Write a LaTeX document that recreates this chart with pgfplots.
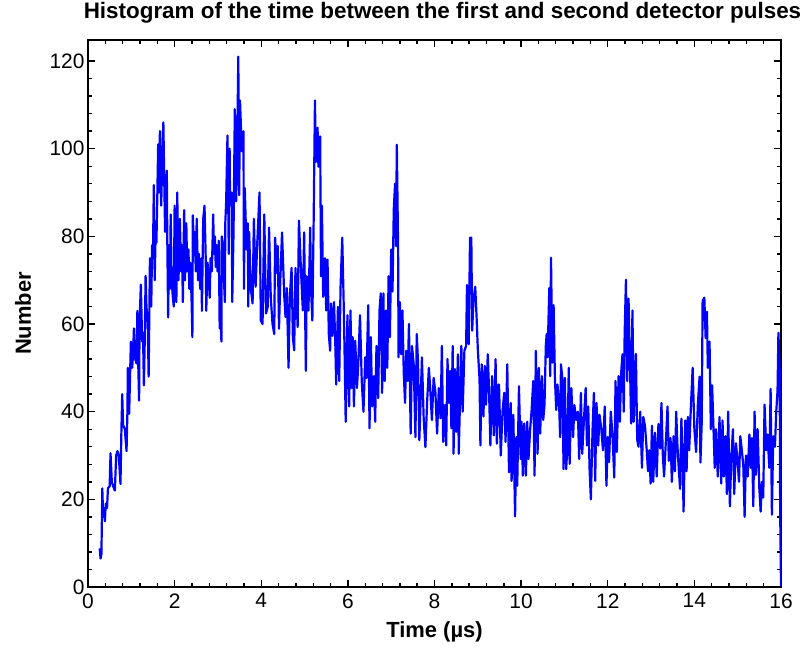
\documentclass[border=0pt]{standalone}
\usepackage{pgfplots}
\pgfplotsset{compat=1.18}
\usepackage{fontspec}
\setmainfont{Liberation Sans}
\begin{document}
\begin{tikzpicture}
\useasboundingbox (-88bp,-61bp) rectangle (720bp,587bp);
\begin{axis}[
  at={(0,0)}, anchor=south west,
  scale only axis, width=693bp, height=547bp,
  xmin=0, xmax=16, ymin=0, ymax=124.8,
  xtick={0,2,...,16}, ytick={0,20,...,120},
  minor x tick num=4, minor y tick num=4,
  xtick pos=both, ytick pos=both,
  xticklabel pos=lower, yticklabel pos=left,
  tick align=inside, major tick length=7bp, minor tick length=4bp,
  every tick/.style={black, line width=1.4bp},
  axis line style={line width=2bp},
  /pgf/number format/assume math mode=true,
  tick label style={font=\fontsize{21}{21}\selectfont},
  xticklabel style={yshift=-3bp},
  xlabel={Time (µs)},
  ylabel={Number},
  label style={font=\bfseries\fontsize{22}{22}\selectfont},
  xlabel style={at={(axis description cs:0.5,0)}, anchor=base, yshift=-50bp},
  ylabel style={at={(axis description cs:-0.0823,0.5)}, anchor=base},
  title={Histogram of the time between the first and second detector pulses},
  title style={font=\bfseries\fontsize{22.5}{22.5}\selectfont, at={(axis description cs:0.5,1)}, anchor=base, yshift=16bp, xshift=8bp},
]
\addplot[color={rgb,255:red,0;green,0;blue,255}, line width=2.2bp, line join=round] table {
x y
0.27 8.8
0.29 6.5
0.31 7.5
0.33 22.5
0.35 16
0.37 18
0.39 15
0.41 19
0.44 18
0.46 22.5
0.50 23
0.52 30.5
0.55 24
0.58 23
0.62 22
0.65 30
0.68 31
0.71 30
0.75 23.5
0.77 35
0.79 44
0.81 37
0.85 36
0.89 31
0.91 40
0.92 50
0.95 39.5
0.99 56
1.02 50
1.04 53
1.06 59
1.09 52
1.12 51
1.14 63
1.15 55
1.18 42.5
1.19 60
1.22 69
1.25 56
1.27 58
1.29 46
1.31 56
1.33 71
1.35 64
1.38 60
1.40 48
1.43 75
1.45 65
1.46 64
1.48 78
1.50 76
1.52 91.7
1.54 70
1.56 80
1.58 78.6
1.60 89
1.62 101
1.64 90
1.66 104
1.68 92
1.69 87
1.72 100
1.74 106
1.76 93
1.78 81
1.79 85
1.82 95
1.83 80
1.85 61.5
1.87 78
1.89 68
1.91 85
1.93 70
1.96 66
1.98 64
2.00 87
2.02 70
2.04 65
2.06 90
2.09 70
2.11 80
2.12 84
2.15 72
2.17 78
2.19 65
2.22 86
2.24 70
2.26 80
2.27 83
2.29 72
2.32 77
2.34 68
2.36 74
2.39 66
2.41 57
2.42 84.8
2.45 76
2.46 81
2.49 72
2.51 84
2.54 70
2.56 76
2.59 68
2.62 75
2.63 63
2.66 84
2.69 87
2.72 74
2.73 63
2.76 74
2.79 70
2.81 66
2.83 75
2.86 72
2.89 85
2.91 76
2.93 80
2.95 73
2.97 78
2.99 72
3.02 79
3.04 59
3.06 62
3.08 56
3.09 80
3.12 78
3.14 70
3.16 65
3.17 83
3.19 88
3.22 103
3.23 95
3.25 76
3.27 100
3.28 88
3.32 90
3.33 65
3.36 81
3.39 109
3.42 88
3.44 96
3.47 121
3.49 89.4
3.51 111
3.55 99.4
3.59 104
3.60 68
3.62 91
3.66 77
3.69 83
3.70 64
3.72 81
3.76 68
3.80 64.7
3.83 84
3.87 68.5
3.91 79
3.96 90
3.99 60.8
4.03 60
4.07 85
4.11 62.4
4.15 64
4.18 82
4.22 66
4.26 60
4.30 57.7
4.32 79.7
4.36 71.6
4.38 77.8
4.41 58.9
4.44 70
4.48 80.9
4.53 66.6
4.56 61.6
4.59 68.2
4.63 50
4.66 66.2
4.70 72.8
4.73 57
4.76 54
4.79 72.8
4.84 59.3
4.87 83.6
4.92 71.6
4.96 63.1
4.99 80.9
5.03 49.3
5.05 70.9
5.09 63.1
5.13 82
5.15 67.8
5.18 60.8
5.21 83.6
5.24 111
5.26 97
5.30 104.8
5.32 95.9
5.36 102.8
5.38 70.9
5.40 87
5.43 66.2
5.47 75
5.50 63.1
5.53 74.7
5.56 57.7
5.59 53.9
5.61 64.7
5.64 57.3
5.68 65
5.71 55.4
5.73 46.2
5.77 63.9
5.80 47
5.83 68.2
5.87 79.7
5.91 61.6
5.95 37.7
5.99 62
6.03 41.2
6.06 63.1
6.09 45.4
6.11 57
6.14 41.2
6.17 56.2
6.21 45.4
6.24 50.8
6.28 62
6.32 47
6.36 40
6.40 52.4
6.43 47.7
6.47 64.3
6.50 36.2
6.53 57
6.56 41.2
6.60 48.1
6.63 37.7
6.66 55
6.70 43.1
6.73 63.1
6.76 67
6.79 44.3
6.82 67
6.85 47
6.88 63.1
6.91 50
6.94 70.9
6.97 57
7.00 77
7.03 67.4
7.06 86.3
7.09 92
7.11 77.8
7.13 100.9
7.16 77
7.17 52.4
7.20 65
7.23 53.1
7.26 63.1
7.29 48.9
7.32 42
7.35 53.9
7.38 47
7.41 60
7.45 35
7.48 55
7.52 50.8
7.56 34.2
7.59 57.7
7.62 51.2
7.65 33.5
7.68 42.7
7.71 52.4
7.75 38.5
7.79 31.9
7.83 42.3
7.87 50
7.90 45.4
7.94 38.1
7.98 47.7
8.02 44.6
8.06 35
8.10 45.4
8.14 38.5
8.17 55
8.20 33.1
8.24 41.5
8.27 32.3
8.30 52
8.33 42
8.36 49.3
8.39 36.2
8.42 55
8.44 30.4
8.47 49.7
8.50 35.4
8.54 53.1
8.56 30.4
8.59 43.1
8.62 55
8.65 40
8.69 53.9
8.73 55
8.75 68.9
8.79 55.4
8.82 79.7
8.85 79.7
8.87 58.5
8.90 65.5
8.94 68.5
8.97 62
9.00 54.3
9.04 47.3
9.06 32.3
9.09 50.8
9.13 38.9
9.16 50.4
9.19 41.6
9.23 53.1
9.26 44.6
9.29 32.3
9.33 48.1
9.37 34.6
9.41 52
9.44 32.7
9.48 46.2
9.49 46.2
9.53 30
9.57 40
9.61 44.3
9.64 33.1
9.68 50.8
9.72 26.2
9.76 42
9.78 24.2
9.82 39.3
9.86 16.1
9.89 34.2
9.91 23.1
9.95 45.8
9.99 29.2
10.01 37.7
10.04 25.4
10.07 37.3
10.11 25.4
10.14 37.7
10.17 29.2
10.21 36.2
10.24 40
10.28 47
10.31 25.4
10.34 53.9
10.38 30.4
10.41 50
10.44 35
10.48 48.1
10.51 38.1
10.54 41.6
10.57 55
10.59 57.7
10.61 52.4
10.65 68.2
10.67 48.1
10.69 75.1
10.72 51.2
10.75 64.3
10.78 47.7
10.81 40.4
10.84 46.2
10.88 40.8
10.90 34.2
10.92 50.8
10.95 47.7
10.98 26.9
11.01 47.7
11.04 26.9
11.07 32.3
11.10 50
11.12 28.1
11.16 45.4
11.20 34.2
11.23 41.5
11.27 38.1
11.31 40
11.34 29.2
11.38 44.3
11.41 30.4
11.45 38.1
11.49 45.4
11.52 32.3
11.55 41.2
11.58 26.9
11.61 20
11.65 36.2
11.68 44.3
11.71 24.2
11.74 42
11.78 32.3
11.81 39.3
11.85 36.2
11.89 31.2
11.93 41.2
11.97 23.1
12.00 34.2
12.03 28.5
12.07 40
12.11 34.6
12.15 25
12.18 47
12.21 30.8
12.25 48.1
12.28 37.7
12.31 48.9
12.34 53.1
12.37 40
12.39 57.7
12.42 70.1
12.45 47
12.48 65.8
12.51 52.4
12.54 37.3
12.57 63.1
12.60 37.7
12.63 48.9
12.65 53.2
12.68 33.6
12.71 32
12.75 40
12.79 27.2
12.82 38.8
12.86 36.8
12.90 31.2
12.93 26.4
12.96 31.2
12.99 23.6
13.02 36.8
13.05 24
13.09 35.2
13.13 25.2
13.17 37.2
13.21 31.6
13.24 42
13.27 30.4
13.30 25.2
13.35 34.8
13.38 41.2
13.41 28.8
13.45 34
13.48 24
13.52 34.4
13.55 26.4
13.58 40
13.61 32
13.64 26.8
13.67 22.4
13.70 38.4
13.73 28.8
13.75 17.2
13.79 38
13.82 26.4
13.85 38.8
13.88 31.2
13.92 41.2
13.96 50
14.00 36
14.04 30.8
14.08 41.6
14.12 48
14.14 28.4
14.17 37.6
14.19 65.2
14.23 66
14.26 56.8
14.29 62.8
14.31 50
14.35 56
14.38 36
14.41 46
14.44 36.4
14.47 27.2
14.50 36
14.54 25.2
14.58 38.8
14.62 23.6
14.65 38
14.68 25.2
14.72 34.4
14.75 21.2
14.78 40
14.82 18.4
14.85 28.8
14.89 36
14.92 21.2
14.96 32.8
15.00 28.4
15.03 24
15.06 34.4
15.10 30.8
15.13 27.6
15.16 16
15.19 30
15.23 25.2
15.27 34.8
15.30 27.2
15.33 34
15.36 18.4
15.39 40
15.42 25.6
15.46 36
15.50 22.4
15.53 17.2
15.56 24
15.59 20.4
15.62 41.6
15.66 31.2
15.69 34.8
15.73 27.2
15.76 45.2
15.79 16.5
15.82 34.4
15.86 32
15.89 40
15.92 44.8
15.94 58
15.97 49.6
15.98 18
16.00 0
};
\end{axis}
\end{tikzpicture}
\end{document}
